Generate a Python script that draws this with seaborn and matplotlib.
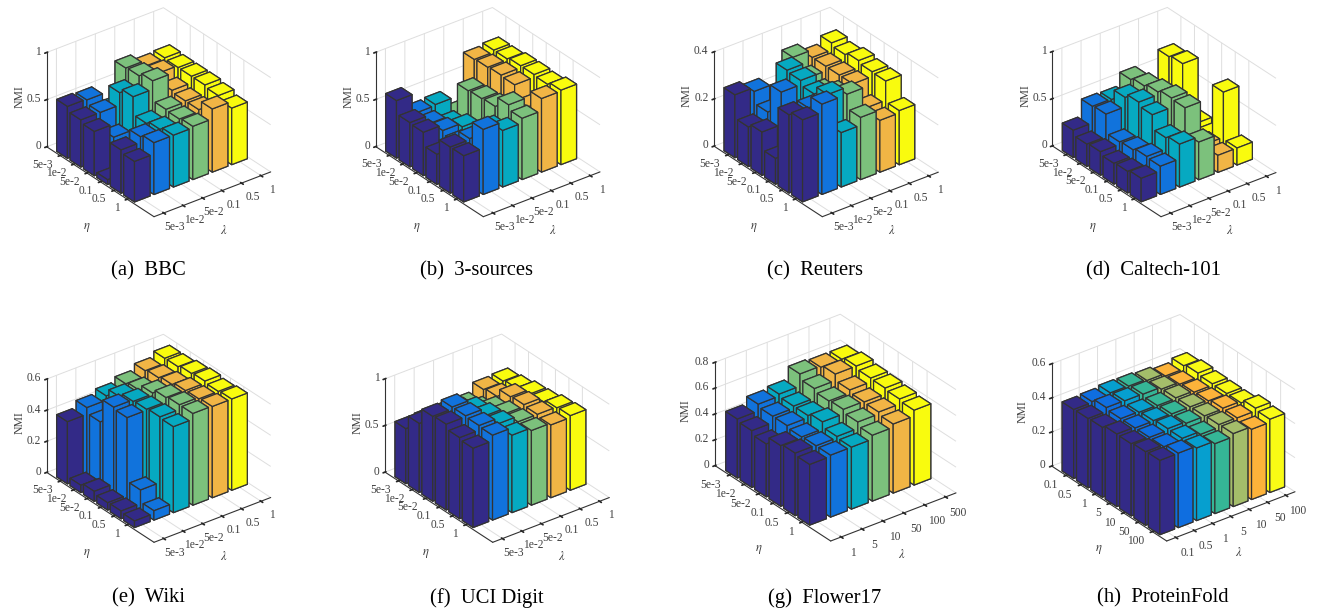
import numpy as np
import seaborn as sns
import matplotlib
matplotlib.use("Agg")
import matplotlib.pyplot as plt
from mpl_toolkits.mplot3d import proj3d

# every list below is one lambda column, top to bottom = eta rows
bbc = [[.55, .50, .47, .05, .46, .43],
       [.54, .50, .33, .25, .52, .55],
       [.35, .63, .68, .49, .52, .55],
       [.72, .73, .77, .56, .55, .565],
       [.66, .68, .59, .57, .57, .67],
       [.67, .66, .66, .66, .64, .60]]
sources3 = [[.61, .47, .46, .32, .49, .49],
            [.40, .38, .40, .36, .50, .69],
            [.41, .30, .36, .25, .53, .60],
            [.24, .57, .58, .59, .70, .65],
            [.73, .74, .75, .74, .60, .78],
            [.75, .75, .77, .77, .76, .79]]
reuters = [[.267, .168, .184, .11, .332, .348],
           [.25, .20, .322, .20, .33, .383],
           [.20, .346, .34, .32, .355, .231],
           [.332, .28, .26, .29, .325, .264],
           [.30, .30, .30, .30, .236, .22],
           [.33, .318, .33, .32, .318, .23]]
caltech = [[.29, .237, .25, .22, .23, .25],
           [.466, .477, .276, .286, .31, .30],
           [.46, .576, .62, .58, .43, .456],
           [.594, .62, .65, .68, .67, .40],
           [.15, .15, .15, .15, .20, .18],
           [.68, .70, .16, .13, .68, .18]]
wiki = [[.40, .047, .064, .047, .05, .042],
        [.443, .407, .558, .547, .138, .06],
        [.47, .52, .547, .553, .56, .553],
        [.50, .515, .553, .58, .59, .59],
        [.536, .547, .56, .577, .58, .587],
        [.568, .57, .583, .59, .58, .587]]
uci = [[.59, .74, .91, .92, .87, .85],
       [.60, .75, .93, .93, .92, .91],
       [.59, .72, .82, .85, .86, .83],
       [.60, .65, .745, .79, .80, .80],
       [.69, .71, .80, .81, .80, .78],
       [.70, .72, .75, .76, .79, .80]]
flower = [[.457, .44, .41, .47, .485, .47],
          [.51, .49, .49, .475, .48, .48],
          [.526, .506, .506, .53, .49, .48],
          [.62, .58, .557, .565, .54, .51],
          [.61, .63, .58, .56, .555, .535],
          [.61, .63, .61, .606, .594, .58]]
protein = [[.405, .407, .41, .426, .424, .432, .436],
           [.41, .43, .42, .42, .42, .42, .437],
           [.42, .428, .416, .422, .43, .428, .426],
           [.418, .426, .414, .42, .42, .41, .41],
           [.41, .414, .418, .42, .422, .426, .428],
           [.395, .402, .41, .414, .426, .424, .412],
           [.414, .426, .418, .416, .416, .44, .43]]

small_ticks = ['5e-3', '1e-2', '5e-2', '0.1', '0.5', '1']
flower_lam = ['1', '5', '10', '50', '100', '500']
protein_ticks = ['0.1', '0.5', '1', '5', '10', '50', '100']

colors6 = ['#332A87', '#1173DC', '#06A9C1', '#7CC17C', '#F1B545', '#F9FB0E']
colors7 = ['#332A87', '#0F6EE0', '#069FCF', '#35B696', '#A4BD6A', '#FDB33A', '#F9FB15']

names = ['(a)  BBC', '(b)  3-sources', '(c)  Reuters', '(d)  Caltech-101',
         '(e)  Wiki', '(f)  UCI Digit', '(g)  Flower17', '(h)  ProteinFold']
datas = [bbc, sources3, reuters, caltech, wiki, uci, flower, protein]
eta_labels = [small_ticks] * 7 + [protein_ticks]
lam_labels = [small_ticks] * 6 + [flower_lam, protein_ticks]
zticks = [[0, .5, 1], [0, .5, 1], [0, .2, .4], [0, .5, 1],
          [0, .2, .4, .6], [0, .5, 1], [0, .2, .4, .6, .8], [0, .2, .4, .6]]
zlabels = [['0', '0.5', '1'], ['0', '0.5', '1'], ['0', '0.2', '0.4'], ['0', '0.5', '1'],
           ['0', '0.2', '0.4', '0.6'], ['0', '0.5', '1'],
           ['0', '0.2', '0.4', '0.6', '0.8'], ['0', '0.2', '0.4', '0.6']]

# floor corners in image pixels: front, left, right, then height of the z axis
corners = [((154, 216.7), (46.7, 146), (270.7, 172.7), 94.3),
           ((483.3, 216.7), (375.7, 146), (600, 172.7), 94.3),
           ((822.3, 216.7), (714, 146), (938.3, 172.7), 94.3),
           ((1161, 216.7), (1052.3, 146), (1276, 172.7), 94.3),
           ((154, 542.3), (46.7, 471.7), (270.7, 499), 93.3),
           ((492.7, 542.3), (385, 471.7), (609.3, 499), 93.3),
           ((830.7, 541), (715, 464), (956, 493.3), 103.3),
           ((1166.7, 541), (1051.7, 464), (1295, 492.3), 102.3)]
caption_xy = [(148, 271), (477, 271), (815, 271), (1153, 271),
              (148, 598), (487, 598), (825, 598), (1163, 598)]
eta_xy = [(87, 228), (417, 228), (754, 228), (1093, 228),
          (87, 553), (426, 553), (759, 550), (1099, 549)]
lam_xy = [(224, 230), (553, 230), (892, 230), (1230, 230),
          (224, 556), (562, 556), (902, 555), (1239, 553)]

sns.set_theme(style="white", rc={'grid.color': '#DEDEDE', 'grid.linewidth': 0.7,
                                 'mathtext.fontset': 'stix'})
plt.rcParams['font.family'] = ['Liberation Serif', 'DejaVu Serif']

W, H = 1332, 609
fig = plt.figure(figsize=(W / 100, H / 100), dpi=100)
AZ = -127.5
EL = 30
SIDE = 330  # axes box, pixels


def to_px(ax, x, y, z):
    ax.apply_aspect()
    xp, yp, _ = proj3d.proj_transform(x, y, z, ax.get_proj())
    return ax.transData.transform((xp, yp))


def fit_axes(ax, front, left, right, zh, xmin, xmax):
    # box shape from the picture, then scale and shift it onto the corners
    sin_a = np.sin(np.radians(-AZ - 90))
    cos_a = np.cos(np.radians(-AZ - 90))
    lx = (right[0] - front[0]) / cos_a
    ly = (front[0] - left[0]) / sin_a
    lz = zh / np.cos(np.radians(EL))
    ax.set_box_aspect((lx, ly, lz), zoom=1)
    p0 = to_px(ax, xmin, 8, 0)
    p1 = to_px(ax, xmax, 8, 0)
    z = (right[0] - front[0]) / (p1[0] - p0[0])
    ax.set_box_aspect((lx, ly, lz), zoom=z)
    p0 = to_px(ax, xmin, 8, 0)
    pos = ax.get_position(original=True)
    dx = (front[0] - p0[0]) / W
    dy = ((H - front[1]) - p0[1]) / H
    ax.set_position([pos.x0 + dx, pos.y0 + dy, pos.width, pos.height])


for i in range(8):
    vals = datas[i]
    n = len(vals)
    cols = sns.color_palette(colors6 if n == 6 else colors7, n)
    ax = fig.add_axes([0.1, 0.1, SIDE / W, SIDE / H], projection='3d')
    ax.computed_zorder = False
    ax.set_proj_type('ortho')
    ax.view_init(elev=EL, azim=AZ)
    ax.patch.set_visible(False)

    # far bars first, they are painted over by the near ones
    order = 0
    for r in range(n):
        for c in range(n - 1, -1, -1):
            ax.bar3d(c + 1 - 0.4, r + 1 - 0.4, 0, 0.8, 0.8, vals[c][r],
                     color=cols[c], edgecolor='#333333', linewidth=0.9,
                     shade=False, zorder=10 + order)
            order += 1

    ax.set_xlim(0.5, n + 0.5)
    ax.set_ylim(8, 0)
    ax.set_zlim(0, zticks[i][-1])
    ax.set_xticks(range(1, n + 1))
    ax.set_xticklabels(lam_labels[i], va='baseline')
    ax.set_yticks(range(1, n + 1))
    ax.set_yticklabels(eta_labels[i], va='center', ha='right')
    ax.set_zticks(zticks[i])
    ax.set_zticklabels(zlabels[i], va='center', ha='right')
    ax.tick_params(axis='x', labelsize=8.3, labelcolor='#404040', pad=5)
    ax.tick_params(axis='y', labelsize=8.3, labelcolor='#404040', pad=0)
    ax.tick_params(axis='z', labelsize=8.3, labelcolor='#404040', pad=-5)

    ax.zaxis.set_rotate_label(False)
    ax.set_zlabel('NMI', fontsize=8.5, color='#404040', rotation=90, labelpad=-6)

    for axis in (ax.xaxis, ax.yaxis, ax.zaxis):
        axis.set_pane_color((1, 1, 1, 0))
        axis.pane.set_edgecolor('#DEDEDE')
        axis.line.set_color('#333333')
        axis.line.set_linewidth(0.8)

    fr, le, ri, zh = corners[i]
    fit_axes(ax, fr, le, ri, zh, 0.5, n + 0.5)

    cx, cy = caption_xy[i]
    fig.text(cx / W, 1 - cy / H, names[i], ha='center', va='center',
             fontsize=14.9, color='black')
    ex, ey = eta_xy[i]
    fig.text(ex / W, 1 - ey / H, r'$\eta$', ha='center', va='center',
             fontsize=9, color='#404040')
    lx, ly = lam_xy[i]
    fig.text(lx / W, 1 - ly / H, r'$\lambda$', ha='center', va='center',
             fontsize=9, color='#404040')

fig.savefig('out.png', dpi=100)
